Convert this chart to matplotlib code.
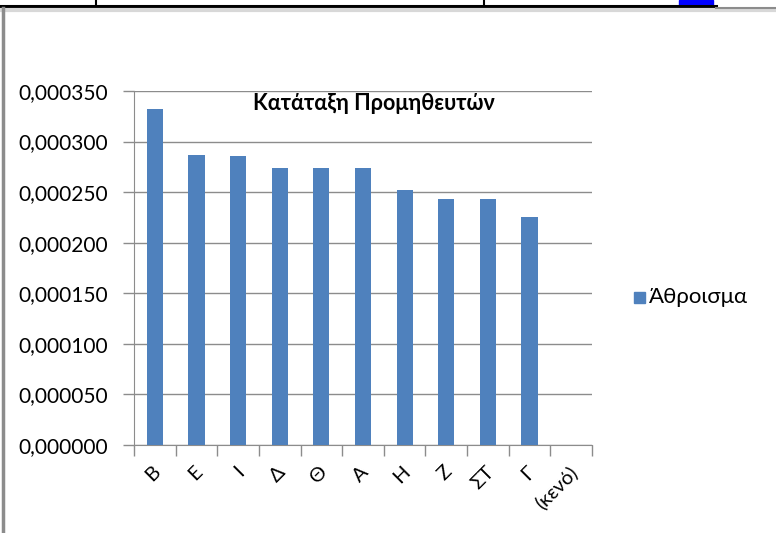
import matplotlib
matplotlib.use("Agg")
import matplotlib.pyplot as plt
from matplotlib.patches import Rectangle
from matplotlib.lines import Line2D
from matplotlib.transforms import ScaledTranslation
import numpy as np

categories = ["Β", "Ε", "Ι", "Δ", "Θ", "Α", "Η", "Ζ", "ΣΤ", "Γ", "(κενό)"]
values = [0.000332, 0.000287, 0.000286, 0.000274, 0.000274, 0.000274,
          0.000252, 0.000243, 0.000243, 0.000225, 0.0]
y_ticks = [0.0, 0.00005, 0.0001, 0.00015, 0.0002, 0.00025, 0.0003, 0.00035]
title = "Κατάταξη Προμηθευτών"
series_name = "Άθροισμα"

plt.rcParams['font.family'] = ['Lato', 'DejaVu Sans']

W, H = 776, 533
fig = plt.figure(figsize=(W / 100, H / 100), dpi=100)
fig.patch.set_facecolor("white")

def fx(px):
    return px / W

def fy(py):
    return 1 - py / H

ax = fig.add_axes([fx(134), fy(445), fx(592) - fx(134), fy(91) - fy(445)])
x = np.arange(len(categories))
bar_color = "#4F81BD"
ax.bar(x, values, width=0.39, color=bar_color, zorder=3, label=series_name)

ax.set_xlim(-0.5, len(categories) - 0.5)
ax.set_ylim(0, 0.00035)
ax.set_yticks(y_ticks)
ax.set_yticklabels([f"{v:.6f}".replace(".", ",") for v in y_ticks], fontsize=15)
ax.yaxis.grid(True, color="#8C8C8C", linewidth=1.0, zorder=0)
ax.set_axisbelow(True)

ax.set_xticks(np.arange(len(categories) + 1) - 0.5)
ax.set_xticklabels([])
ax.set_xticks(x, minor=True)
ax.set_xticklabels(categories, minor=True, rotation=45, ha="right", va="top",
                   rotation_mode="anchor", fontsize=14.5)
ax.tick_params(axis="x", which="minor", length=0, pad=13)
ax.tick_params(axis="x", which="major", length=8, color="#8C8C8C", width=1)
ax.tick_params(axis="y", length=8, color="#8C8C8C", width=1, pad=11)
for lab in ax.get_xticklabels(minor=True):
    lab.set_transform(lab.get_transform() + ScaledTranslation(-3 / 100, 0, fig.dpi_scale_trans))

for s in ["top", "right"]:
    ax.spines[s].set_visible(False)
ax.spines["left"].set_color("#8C8C8C")
ax.spines["bottom"].set_color("#8C8C8C")

ax.text(fx(374), fy(104), title, transform=fig.transFigure, ha="center", va="center",
        fontsize=15.5, fontweight="bold", zorder=5)

# legend
fig.patches.append(Rectangle((fx(634), fy(303)), fx(645) - fx(634), fy(292) - fy(303),
                             transform=fig.transFigure, color=bar_color))
fig.text(fx(649), fy(297), series_name, ha="left", va="center", fontsize=16)

# spreadsheet frame around chart
fig.lines.append(Line2D([0, fx(716)], [fy(6), fy(6)], transform=fig.transFigure,
                        color="black", linewidth=2.2))
for px in [96, 484]:
    fig.lines.append(Line2D([fx(px), fx(px)], [1, fy(6)], transform=fig.transFigure,
                            color="black", linewidth=1.5))
fig.patches.append(Rectangle((fx(679), fy(7)), fx(713) - fx(679), fy(0) - fy(7),
                             transform=fig.transFigure, color="#0000FF"))
fig.lines.append(Line2D([fx(2), 1], [fy(10), fy(10)], transform=fig.transFigure,
                        color="#D8D8D8", linewidth=3))
fig.lines.append(Line2D([fx(716), 1], [fy(8), fy(8)], transform=fig.transFigure,
                        color="#8C8C8C", linewidth=1.5))
fig.lines.append(Line2D([fx(3), fx(3)], [fy(8), 0], transform=fig.transFigure,
                        color="#8C8C8C", linewidth=2.5))

fig.savefig("out.png", dpi=100)
